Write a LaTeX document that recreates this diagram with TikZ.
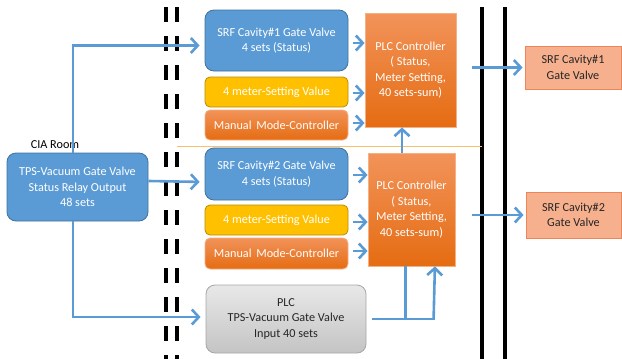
\documentclass[tikz,border=0pt]{standalone}
\usepackage{fontspec}
\setmainfont{Carlito}
\usetikzlibrary{arrows.meta,calc}
\definecolor{bluef}{HTML}{5B9BD5}
\definecolor{blued}{HTML}{41719C}
\definecolor{yelf}{HTML}{FFC000}
\definecolor{yeld}{HTML}{BC8C00}
\definecolor{orT}{HTML}{F2935A}
\definecolor{orB}{HTML}{E56C12}
\definecolor{ord}{HTML}{F4B183}
\definecolor{outf}{HTML}{F6B08E}
\definecolor{outd}{HTML}{EE8558}
\definecolor{grT}{HTML}{E8E8E8}
\definecolor{grB}{HTML}{C4C4C4}
\definecolor{grd}{HTML}{A6A6A6}
\definecolor{sep}{HTML}{F5C26B}
\begin{document}
\begin{tikzpicture}[x=1pt,y=-1pt,
  every node/.style={font=\fontsize{12.2}{15.5}\selectfont, align=center, inner sep=0pt},
  bluebox/.style={draw=blued, fill=bluef, rounded corners=9pt, text=white, line width=0.8pt},
  yelbox/.style={draw=yeld, fill=yelf, rounded corners=5pt, text=white, line width=0.8pt},
  manbox/.style={draw=ord, top color=orT, bottom color=orB, rounded corners=5pt, text=white, line width=0.8pt},
  plcbox/.style={draw=ord, top color=orT, bottom color=orB, text=white, line width=0.8pt},
  outbox/.style={draw=outd, fill=outf, text=black!85, line width=0.8pt},
  graybox/.style={draw=grd, top color=grT, bottom color=grB, rounded corners=9pt, text=black!85, line width=0.8pt},
  arr/.style={draw=bluef, line width=2.6pt, -{Straight Barb[length=7pt,width=15pt,line width=2.6pt]}},
  ln/.style={draw=bluef, line width=2.6pt},
  wall/.style={draw=black, line width=3.5pt},
  dwall/.style={draw=black, line width=4pt, dash pattern=on 15pt off 14pt}
]
\useasboundingbox (0,0) rectangle (622,359);

% walls
\draw[dwall] (166,7) -- (166,359);
\draw[dwall] (177,7) -- (177,359);
\draw[wall] (482,7) -- (482,359);
\draw[wall] (505,7) -- (505,359);
\draw[sep, line width=0.8pt] (177,146) -- (482,146);

% left
\node (cialbl) at (55,145) {CIA Room};
\node[bluebox, minimum width=141pt, minimum height=68pt] (cia) at (77.5,187) {TPS-Vacuum Gate Valve\\Status Relay Output\\48 sets};

% group 1
\node[bluebox, minimum width=143pt, minimum height=61pt] (srf1) at (276.5,40.5) {SRF Cavity\#1 Gate Valve\\4 sets (Status)};
\node[yelbox, minimum width=143pt, minimum height=30pt] (met1) at (276.5,92) {4 meter-Setting Value};
\node[manbox, minimum width=143pt, minimum height=30pt] (man1) at (276.5,125) {Manual\, Mode-Controller};
\node[plcbox, minimum width=91pt, minimum height=114pt] (plc1) at (410.5,70) {PLC Controller\\( Status,\\Meter Setting,\\40 sets-sum)};

% group 2
\node[bluebox, minimum width=143pt, minimum height=52pt] (srf2) at (276.5,174) {SRF Cavity\#2 Gate Valve\\4 sets (Status)};
\node[yelbox, minimum width=143pt, minimum height=30pt] (met2) at (276.5,220) {4 meter-Setting Value};
\node[manbox, minimum width=143pt, minimum height=31pt] (man2) at (276.5,253.5) {Manual\, Mode-Controller};
\node[plcbox, minimum width=87pt, minimum height=113pt] (plc2) at (411.5,209.5) {PLC Controller\\( Status,\\Meter Setting,\\40 sets-sum)};

% gray PLC
\node[graybox, minimum width=160pt, minimum height=68pt] (plc) at (286,319) {PLC\\TPS-Vacuum Gate Valve\\Input 40 sets};

% outputs
\node[outbox, minimum width=96pt, minimum height=43pt] (out1) at (573,67.5) {SRF Cavity\#1\\Gate Valve};
\node[outbox, minimum width=95pt, minimum height=46pt] (out2) at (573.5,215) {SRF Cavity\#2\\Gate Valve};

% connectors
\draw[arr, shorten >=5pt] ([xshift=-4.5pt]cia.north) |- ([yshift=-5pt]srf1.west);
\draw[arr, shorten >=5pt] ([yshift=6pt]cia.east) -- ([yshift=-8pt]srf2.west);
\draw[arr, shorten >=5pt] ([xshift=-4.5pt]cia.south) |- ([yshift=2pt]plc.west);

\draw[arr, shorten <=5pt] ([yshift=-2.5pt]srf1.east) -- ([yshift=-2.5pt]srf1.east -| plc1.west);
\draw[arr, shorten <=5pt] ([yshift=-1pt]met1.east) -- ([yshift=-1pt]met1.east -| plc1.west);
\draw[arr, shorten <=5pt] ([yshift=2pt]man1.east) -- ([yshift=2pt]man1.east -| plc1.west);

\draw[arr, shorten <=5pt] ([yshift=-1pt]srf2.east) -- ([yshift=-1pt]srf2.east -| plc2.west);
\draw[arr, shorten <=5pt] ([yshift=-2pt]met2.east) -- ([yshift=-2pt]met2.east -| plc2.west);
\draw[arr, shorten <=5pt] ([yshift=2.5pt]man2.east) -- ([yshift=2.5pt]man2.east -| plc2.west);

\draw[arr, shorten <=16pt, shorten >=2pt] (plc1.east |- out1.west) -- (out1.west);
\draw[arr, shorten <=17pt, shorten >=2pt] (plc2.east |- out2.west) -- (out2.west);

\draw[arr] ([xshift=-9.5pt]plc2.north) -- ([xshift=-9.5pt]plc2.north |- plc1.south);

\coordinate (j1) at ($(plc.east)+(39,0)$);
\draw[ln, shorten <=6pt] (plc.east) -- ($(plc.east)+(68.5,0)$) coordinate (j2);
\draw[arr] ([xshift=-1.3pt]j2) -- (j2 |- plc2.south);
\draw[ln] (j1) -- (j1 |- plc2.south);
\end{tikzpicture}
\end{document}
